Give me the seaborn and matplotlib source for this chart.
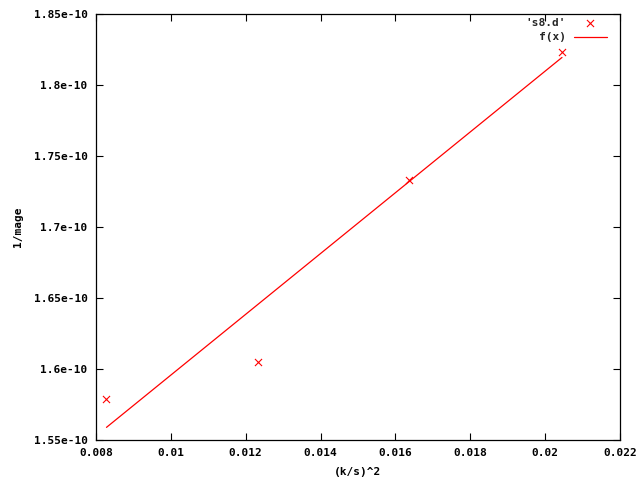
import matplotlib
matplotlib.use("Agg")
import matplotlib.pyplot as plt
import seaborn as sns
import pandas as pd
from matplotlib.ticker import FuncFormatter, MultipleLocator

# data
data_x = [0.00828, 0.01234, 0.01636, 0.02045]
data_y = [1.5789e-10, 1.6051e-10, 1.7331e-10, 1.8232e-10]
fit_x = [0.00828, 0.02045]
fit_y = [1.5589e-10, 1.8194e-10]
data_label = "'s8.d'"
fit_label = "f(x)"
x_label = "(k/s)^2"
y_label = "1/mage"

sns.set_theme(style="ticks")
plt.rcParams['font.family'] = ['DejaVu Sans Mono', 'DejaVu Sans']
plt.rcParams['font.weight'] = 'bold'
plt.rcParams['font.size'] = 8

fig = plt.figure(figsize=(6.4, 4.8), dpi=100)
ax = fig.add_axes([96/640, 40/480, 524/640, 426/480])

pts = pd.DataFrame({"x": data_x, "y": data_y})
fit = pd.DataFrame({"x": fit_x, "y": fit_y})

sns.scatterplot(data=pts, x="x", y="y", marker="x", color="#ff0000", s=26,
                linewidth=0.8, ax=ax, label=data_label, zorder=3)
sns.lineplot(data=fit, x="x", y="y", color="#ff0000", linewidth=0.9, ax=ax,
             label=fit_label)

ax.set_xlim(0.008, 0.022)
ax.set_ylim(1.55e-10, 1.85e-10)
ax.xaxis.set_major_locator(MultipleLocator(0.002))
ax.yaxis.set_major_locator(MultipleLocator(0.05e-10))
ax.xaxis.set_major_formatter(FuncFormatter(lambda v, p: f"{v:g}"))
ax.yaxis.set_major_formatter(FuncFormatter(lambda v, p: f"{v:g}"))
ax.tick_params(direction="in", length=5, width=0.8, color="black",
               top=True, right=True, labelsize=8, labelcolor="black")
ax.tick_params(axis="y", pad=6)
ax.tick_params(axis="x", pad=6)
for s in ax.spines.values():
    s.set_color("black")
    s.set_linewidth(0.9)

ax.set_xlabel(x_label, fontsize=8, fontweight="bold", color="black", labelpad=6)
ax.set_ylabel(y_label, fontsize=8, fontweight="bold", color="black", labelpad=8)

leg = ax.legend(loc="upper right", bbox_to_anchor=(607/640, 1 - 18/480),
                bbox_transform=fig.transFigure, frameon=False, markerfirst=False,
                handlelength=3.0, handletextpad=0.7, labelspacing=0.4,
                borderpad=0, borderaxespad=0, prop={"size": 8, "weight": "bold"})

fig.savefig("out.png", dpi=100, facecolor="white")
